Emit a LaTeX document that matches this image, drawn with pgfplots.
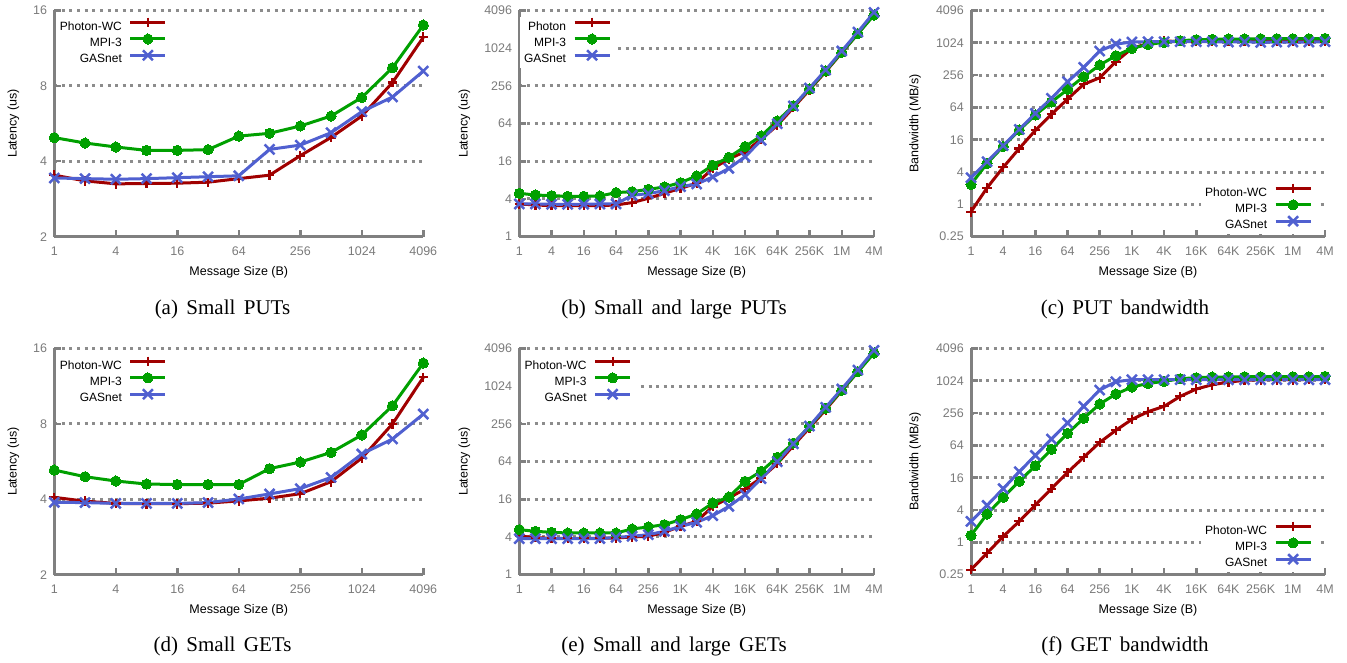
\documentclass[border=0pt]{standalone}
\usepackage{fontspec}
\setmainfont{Liberation Serif}
\setsansfont{Liberation Sans}
\usepackage{pgfplots}
\usepackage{pgfplotstable}
\pgfplotsset{compat=1.18}
\definecolor{cP}{HTML}{A00000}
\definecolor{cM}{HTML}{00A000}
\definecolor{cG}{HTML}{5060D0}
\definecolor{axgray}{HTML}{808080}
\definecolor{grgray}{HTML}{8C8C8C}
\definecolor{tlgray}{HTML}{7A7A7A}

\pgfplotstableread{
x p m g
1 3.52 4.97 3.43
2 3.34 4.73 3.41
4 3.25 4.56 3.39
8 3.26 4.42 3.41
16 3.27 4.42 3.44
32 3.30 4.45 3.47
64 3.41 5.04 3.50
128 3.52 5.17 4.46
256 4.21 5.53 4.64
512 4.98 6.06 5.20
1024 6.06 7.19 6.31
2048 8.25 9.45 7.22
4096 12.5 13.98 9.16
}\tabA

\pgfplotstableread{
x p m g
1 3.33 4.92 3.33
2 3.21 4.63 3.33
4 3.13 4.52 3.29
8 3.13 4.41 3.29
16 3.13 4.41 3.29
32 3.13 4.47 3.33
64 3.21 5.05 3.33
128 3.50 5.24 4.58
256 4.10 5.70 4.87
512 4.92 6.22 5.43
1024 5.92 7.29 6.29
2048 7.11 9.31 6.94
4096 12.3 13.8 8.98
8192 17.4 18.5 12.3
16384 22.8 27.4 18.9
32768 35.8 40.5 34.5
65536 59.9 70.2 63.7
131072 115 123 122
262144 222 228 236
524288 430 441 457
1048576 865 876 920
2097152 1738 1738 1848
4194304 3536 3451 3806
}\tabB

\pgfplotstableread{
x p m g
1 0.730 2.36 3.14
2 2.04 5.80 6.23
4 4.89 12.0 12.4
8 11.0 24.2 24.9
16 23.9 46.1 49.5
32 47.4 80.5 94.2
64 91.5 138 192
128 172 238 356
256 228 393 717
512 454 587 967
1024 803 803 1054
2048 995 953 1069
4096 1100 1039 1069
8192 1080 1116 1069
16384 1080 1165 1069
32768 1080 1181 1069
65536 1080 1199 1054
131072 1080 1199 1069
262144 1080 1215 1039
524288 1080 1215 1054
1048576 1080 1215 1054
2097152 1080 1215 1054
4194304 1080 1233 1069
}\tabC

\pgfplotstableread{
x p m g
1 4.07 5.23 3.89
2 3.93 4.92 3.88
4 3.85 4.73 3.85
8 3.84 4.60 3.85
16 3.84 4.58 3.85
32 3.86 4.58 3.88
64 3.94 4.58 4.01
128 4.04 5.30 4.20
256 4.21 5.63 4.41
512 4.70 6.15 4.89
1024 5.84 7.22 6.06
2048 8.00 9.45 6.96
4096 12.26 13.98 8.75
}\tabD

\pgfplotstableread{
x p m g
1 4.15 5.24 3.76
2 3.90 4.92 3.76
4 3.81 4.75 3.76
8 3.81 4.63 3.76
16 3.81 4.63 3.76
32 3.81 4.63 3.76
64 3.85 4.63 3.95
128 4.00 5.37 4.10
256 4.10 5.78 4.36
512 4.75 6.29 4.92
1024 5.92 7.56 5.92
2048 7.11 9.31 6.86
4096 12.3 13.9 8.76
8192 16.8 17.4 12.3
16384 23.3 30.9 18.9
32768 34.9 44.7 34.1
65536 59.2 74.7 63.7
131072 115 126 123
262144 222 233 236
524288 430 452 469
1048576 865 876 920
2097152 1738 1738 1848
4194304 3536 3451 3806
}\tabE

\pgfplotstableread{
x p m g
1 0.310 1.35 2.46
2 0.633 3.37 4.89
4 1.29 6.89 9.99
8 2.46 13.7 20.7
16 4.96 26.8 41.7
32 9.99 53.9 84.0
64 20.1 107 167
128 38.3 204 341
256 72.8 377 687
512 122 578 981
1024 195 780 1069
2048 271 913 1069
4096 341 995 1069
8192 523 1116 1069
16384 717 1165 1069
32768 863 1199 1069
65536 967 1199 1069
131072 1039 1215 1069
262144 1069 1215 1069
524288 1069 1215 1069
1048576 1069 1215 1069
2097152 1084 1215 1069
4194304 1100 1233 1069
}\tabF

\pgfplotsset{
  every axis/.append style={
    scale only axis, xmode=log, ymode=log, log basis x=2, log basis y=2,
    axis x line*=bottom, axis y line*=left,
    axis line style={-, draw=axgray, line width=3pt},
    tick align=inside, major tick length=7pt,
    tick style={draw=axgray, line width=2.5pt},
    ymajorgrids, xmajorgrids=false,
    major grid style={draw=grgray, line width=3pt, dash pattern=on 3pt off 4.6pt},
    tick label style={font=\fontsize{12.5}{14}\sffamily, text=tlgray, inner sep=0pt},
    xticklabel style={anchor=north, yshift=-10pt},
    yticklabel style={anchor=east, xshift=-7pt},
    label style={font=\fontsize{12.5}{14}\sffamily},
    clip=false,
    legend plot pos=right,
    legend cell align=right,
    legend style={draw=none, fill=white, inner xsep=4pt, inner ysep=1pt, outer sep=0pt,
      font=\fontsize{12}{14}\sffamily, column sep=7pt, row sep=0pt,
      nodes={inner sep=0pt, text height=11pt, text depth=3.7pt}},
    xlabel={Message Size (B)},
  },
  every axis x label/.style={at={(axis description cs:0.5,-0.159)}, anchor=center},
  legend image code/.code={\draw[mark repeat=2,mark phase=2,#1] plot coordinates {(0pt,4pt) (17.5pt,4pt) (35pt,4pt)};},
}
\tikzset{
  pP/.style={cP, line width=3pt, mark=+, mark size=4.8pt, mark options={solid, line width=2.2pt}},
  pM/.style={cM, line width=3pt, mark=*, mark size=5.1pt, mark options={solid, fill=cM, draw=cM, line width=0pt}},
  pG/.style={cG, line width=3pt, mark=x, mark size=7pt, mark options={solid, line width=2.5pt}},
}

\begin{document}
\begin{tikzpicture}
\useasboundingbox (0,0) rectangle (1347pt,663pt);

% (a)
\begin{axis}[at={(54.3pt,426.3pt)}, anchor=south west,
  width=369pt, height=226.3pt,
  xmin=1, xmax=4096, xtick={1,4,16,64,256,1024,4096},
  xticklabels={1,4,16,64,256,1024,4096},
  ymin=2, ymax=16, ytick={2,4,8,16}, yticklabels={2,4,8,16},
  ylabel={Latency (us)},
  y label style={at={(axis description cs:-0.111,0.5)}, anchor=center},
  legend style={at={(0.316,0.972)}, anchor=north east}]
\addplot[pP] table[x=x,y=p]{\tabA};
\addplot[pM] table[x=x,y=m]{\tabA};
\addplot[pG] table[x=x,y=g]{\tabA};
\legend{Photon-WC,MPI-3,GASnet}
\end{axis}

% (b)
\begin{axis}[at={(519.3pt,426.3pt)}, anchor=south west,
  width=354.7pt, height=226.3pt,
  xmin=1, xmax=4194304,
  xtick={1,4,16,64,256,1024,4096,16384,65536,262144,1048576,4194304},
  xticklabels={1,4,16,64,256,1K,4K,16K,64K,256K,1M,4M},
  ymin=1, ymax=4096, ytick={1,4,16,64,256,1024,4096},
  yticklabels={1,4,16,64,256,1024,4096},
  ylabel={Latency (us)},
  y label style={at={(axis description cs:-0.155,0.5)}, anchor=center},
  legend style={at={(0.270,0.972)}, anchor=north east}]
\addplot[pP] table[x=x,y=p]{\tabB};
\addplot[pM] table[x=x,y=m]{\tabB};
\addplot[pG] table[x=x,y=g]{\tabB};
\legend{Photon,MPI-3,GASnet}
\end{axis}

% (c)
\begin{axis}[at={(971pt,426.3pt)}, anchor=south west,
  width=354pt, height=226.3pt,
  xmin=1, xmax=4194304,
  xtick={1,4,16,64,256,1024,4096,16384,65536,262144,1048576,4194304},
  xticklabels={1,4,16,64,256,1K,4K,16K,64K,256K,1M,4M},
  ymin=0.25, ymax=4096, ytick={0.25,1,4,16,64,256,1024,4096},
  yticklabels={0.25,1,4,16,64,256,1024,4096},
  ylabel={Bandwidth (MB/s)},
  y label style={at={(axis description cs:-0.158,0.5)}, anchor=center},
  legend style={at={(0.975,0.014)}, anchor=south east}]
\addplot[pP] table[x=x,y=p]{\tabC};
\addplot[pM] table[x=x,y=m]{\tabC};
\addplot[pG] table[x=x,y=g]{\tabC};
\legend{Photon-WC,MPI-3,GASnet}
\end{axis}

% (d)
\begin{axis}[at={(54.3pt,88.3pt)}, anchor=south west,
  width=369pt, height=226.3pt,
  xmin=1, xmax=4096, xtick={1,4,16,64,256,1024,4096},
  xticklabels={1,4,16,64,256,1024,4096},
  ymin=2, ymax=16, ytick={2,4,8,16}, yticklabels={2,4,8,16},
  ylabel={Latency (us)},
  y label style={at={(axis description cs:-0.111,0.5)}, anchor=center},
  legend style={at={(0.316,0.968)}, anchor=north east}]
\addplot[pP] table[x=x,y=p]{\tabD};
\addplot[pM] table[x=x,y=m]{\tabD};
\addplot[pG] table[x=x,y=g]{\tabD};
\legend{Photon-WC,MPI-3,GASnet}
\end{axis}

% (e)
\begin{axis}[at={(519.3pt,88.3pt)}, anchor=south west,
  width=354.7pt, height=226.3pt,
  xmin=1, xmax=4194304,
  xtick={1,4,16,64,256,1024,4096,16384,65536,262144,1048576,4194304},
  xticklabels={1,4,16,64,256,1K,4K,16K,64K,256K,1M,4M},
  ymin=1, ymax=4096, ytick={1,4,16,64,256,1024,4096},
  yticklabels={1,4,16,64,256,1024,4096},
  ylabel={Latency (us)},
  y label style={at={(axis description cs:-0.155,0.5)}, anchor=center},
  legend style={at={(0.328,0.968)}, anchor=north east}]
\addplot[pP] table[x=x,y=p]{\tabE};
\addplot[pM] table[x=x,y=m]{\tabE};
\addplot[pG] table[x=x,y=g]{\tabE};
\legend{Photon-WC,MPI-3,GASnet}
\end{axis}

% (f)
\begin{axis}[at={(971pt,88.3pt)}, anchor=south west,
  width=354pt, height=226.3pt,
  xmin=1, xmax=4194304,
  xtick={1,4,16,64,256,1024,4096,16384,65536,262144,1048576,4194304},
  xticklabels={1,4,16,64,256,1K,4K,16K,64K,256K,1M,4M},
  ymin=0.25, ymax=4096, ytick={0.25,1,4,16,64,256,1024,4096},
  yticklabels={0.25,1,4,16,64,256,1024,4096},
  ylabel={Bandwidth (MB/s)},
  y label style={at={(axis description cs:-0.158,0.5)}, anchor=center},
  legend style={at={(0.975,0.014)}, anchor=south east}]
\addplot[pP] table[x=x,y=p]{\tabF};
\addplot[pM] table[x=x,y=m]{\tabF};
\addplot[pG] table[x=x,y=g]{\tabF};
\legend{Photon-WC,MPI-3,GASnet}
\end{axis}

\begin{scope}[every node/.style={font=\fontsize{21}{24}\selectfont, anchor=base, inner sep=0pt}]
\node at (222.5pt,348pt) {\spaceskip=0.4em\relax (a) Small PUTs};
\node at (674pt,348pt) {\spaceskip=0.4em\relax (b) Small and large PUTs};
\node at (1125pt,348pt) {\spaceskip=0.4em\relax (c) PUT bandwidth};
\node at (222.5pt,11.3pt) {\spaceskip=0.4em\relax (d) Small GETs};
\node at (674pt,11.3pt) {\spaceskip=0.4em\relax (e) Small and large GETs};
\node at (1125pt,11.3pt) {\spaceskip=0.4em\relax (f) GET bandwidth};
\end{scope}
\end{tikzpicture}
\end{document}
